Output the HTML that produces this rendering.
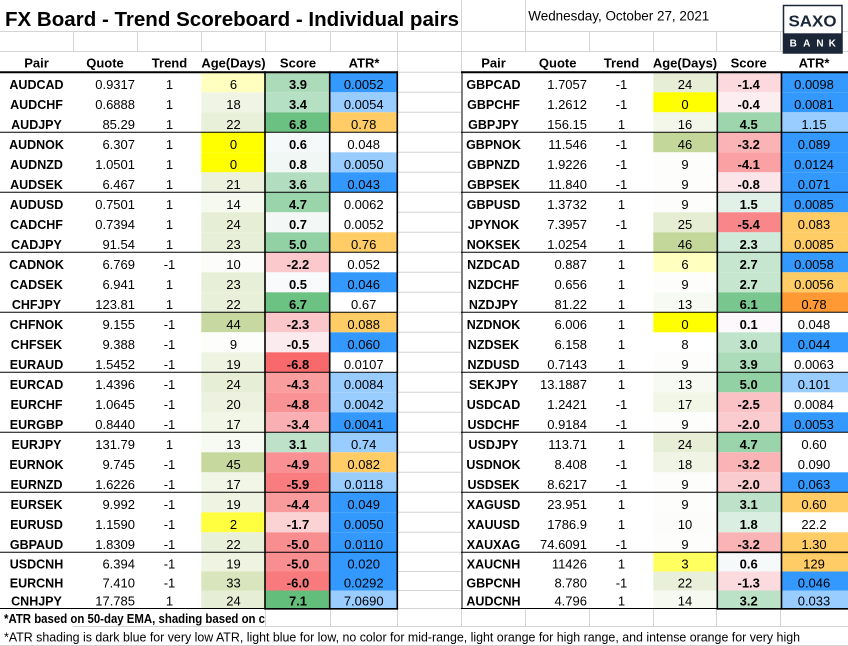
<!DOCTYPE html>
<html><head><meta charset="utf-8">
<style>
html,body{margin:0;padding:0;background:#fff;width:848px;height:646px;overflow:hidden}
svg{display:block}
text{font-family:"Liberation Sans",Arial,sans-serif;font-size:13px;fill:#000}
.b{font-weight:bold}
.m{text-anchor:middle}
.e{text-anchor:end}
g[transform] > text:first-of-type{font-size:12.5px}
</style></head>
<body>
<svg width="848" height="646" viewBox="0 0 848 646" xmlns="http://www.w3.org/2000/svg">
<defs>
<clipPath id="c1"><rect x="0" y="600" width="265" height="30"/></clipPath>
</defs>
<rect x="0" y="0" width="848" height="646" fill="#fff"/>

<g stroke="#d4d4d4" stroke-width="1" fill="none">
<line x1="0" y1="31.5" x2="783" y2="31.5"/>
<line x1="842" y1="31.5" x2="848" y2="31.5"/>
<line x1="0" y1="51.5" x2="783" y2="51.5"/>
<line x1="842" y1="51.5" x2="848" y2="51.5"/>
<line x1="73.5" y1="31.5" x2="73.5" y2="51.5"/>
<line x1="137.5" y1="31.5" x2="137.5" y2="51.5"/>
<line x1="201.5" y1="31.5" x2="201.5" y2="51.5"/>
<line x1="265.5" y1="31.5" x2="265.5" y2="51.5"/>
<line x1="330.5" y1="31.5" x2="330.5" y2="51.5"/>
<line x1="397.5" y1="31.5" x2="397.5" y2="72"/>
<line x1="461.5" y1="0" x2="461.5" y2="72"/>
<line x1="525.5" y1="0" x2="525.5" y2="51.5"/>
<line x1="589.5" y1="31.5" x2="589.5" y2="51.5"/>
<line x1="653.5" y1="31.5" x2="653.5" y2="51.5"/>
<line x1="716.5" y1="31.5" x2="716.5" y2="51.5"/>
<line x1="780.5" y1="31.5" x2="780.5" y2="51.5"/>
<line x1="398" y1="72.3" x2="461" y2="72.3"/>
<line x1="398" y1="92.3" x2="461" y2="92.3"/>
<line x1="398" y1="112.3" x2="461" y2="112.3"/>
<line x1="398" y1="132.3" x2="461" y2="132.3"/>
<line x1="398" y1="152.3" x2="461" y2="152.3"/>
<line x1="398" y1="172.3" x2="461" y2="172.3"/>
<line x1="398" y1="192.3" x2="461" y2="192.3"/>
<line x1="398" y1="212.3" x2="461" y2="212.3"/>
<line x1="398" y1="232.3" x2="461" y2="232.3"/>
<line x1="398" y1="252.3" x2="461" y2="252.3"/>
<line x1="398" y1="272.3" x2="461" y2="272.3"/>
<line x1="398" y1="292.3" x2="461" y2="292.3"/>
<line x1="398" y1="312.3" x2="461" y2="312.3"/>
<line x1="398" y1="332.3" x2="461" y2="332.3"/>
<line x1="398" y1="352.3" x2="461" y2="352.3"/>
<line x1="398" y1="372.3" x2="461" y2="372.3"/>
<line x1="398" y1="392.3" x2="461" y2="392.3"/>
<line x1="398" y1="412.3" x2="461" y2="412.3"/>
<line x1="398" y1="432.3" x2="461" y2="432.3"/>
<line x1="398" y1="452.3" x2="461" y2="452.3"/>
<line x1="398" y1="472.3" x2="461" y2="472.3"/>
<line x1="398" y1="492.3" x2="461" y2="492.3"/>
<line x1="398" y1="512.3" x2="461" y2="512.3"/>
<line x1="398" y1="532.3" x2="461" y2="532.3"/>
<line x1="398" y1="552.3" x2="461" y2="552.3"/>
<line x1="398" y1="571.5" x2="461" y2="571.5"/>
<line x1="398" y1="590.5" x2="461" y2="590.5"/>
<line x1="398" y1="608.5" x2="461" y2="608.5"/>
<line x1="265.5" y1="609" x2="265.5" y2="626.5"/>
<line x1="330.5" y1="609" x2="330.5" y2="626.5"/>
<line x1="397.5" y1="609" x2="397.5" y2="626.5"/>
<line x1="461.5" y1="609" x2="461.5" y2="626.5"/>
<line x1="525.5" y1="609" x2="525.5" y2="626.5"/>
<line x1="589.5" y1="609" x2="589.5" y2="626.5"/>
<line x1="653.5" y1="609" x2="653.5" y2="626.5"/>
<line x1="716.5" y1="609" x2="716.5" y2="626.5"/>
<line x1="780.5" y1="609" x2="780.5" y2="626.5"/>
<line x1="73" y1="626.5" x2="848" y2="626.5"/>
<line x1="0" y1="645.5" x2="848" y2="645.5"/>
</g>

<text x="5" y="26" class="b" style="font-size:20.5px" textLength="454" lengthAdjust="spacingAndGlyphs">FX Board - Trend Scoreboard - Individual pairs</text>
<text x="528.3" y="20.7" style="font-size:13.4px" textLength="181" lengthAdjust="spacingAndGlyphs">Wednesday, October 27, 2021</text>

<rect x="783.5" y="5.5" width="58.5" height="47.5" fill="#fff" stroke="#1b2738" stroke-width="1.5"/>
<rect x="783" y="33.3" width="59.5" height="20" fill="#1b2738"/>
<text x="812.5" y="26.7" class="b m" style="font-size:16px;fill:#1b2738" textLength="48" lengthAdjust="spacingAndGlyphs">SAXO</text>
<text x="793.3" y="46.5" class="b m" style="font-size:10px;fill:#fff">B</text>
<text x="806.7" y="46.5" class="b m" style="font-size:10px;fill:#fff">A</text>
<text x="820" y="46.5" class="b m" style="font-size:10px;fill:#fff">N</text>
<text x="832.3" y="46.5" class="b m" style="font-size:10px;fill:#fff">K</text>

<text x="36.5" y="67.5" class="b m">Pair</text>
<text x="105" y="67.5" class="b m">Quote</text>
<text x="169.5" y="67.5" class="b m">Trend</text>
<text x="233.5" y="67.5" class="b m">Age(Days)</text>
<text x="298" y="67.5" class="b m">Score</text>
<text x="364" y="67.5" class="b m">ATR*</text>
<text x="493.5" y="67.5" class="b m">Pair</text>
<text x="557.7" y="67.5" class="b m">Quote</text>
<text x="621.5" y="67.5" class="b m">Trend</text>
<text x="685" y="67.5" class="b m">Age(Days)</text>
<text x="748.7" y="67.5" class="b m">Score</text>
<text x="814" y="67.5" class="b m">ATR*</text>

<g transform="translate(0,72.3)"><rect x="201.3" width="64.4" height="20" fill="rgb(255,255,191)"/><rect x="265.7" width="64.3" height="20" fill="rgb(171,219,185)"/><rect x="330" width="67.3" height="20" fill="#3399ff"/>
<text x="36.5" y="16.8" class="b m">AUDCAD</text><text x="135" y="16.8" class="e">0.9317</text><text x="169.5" y="16.8" class="m">1</text><text x="233.5" y="16.8" class="m">6</text><text x="298" y="16.8" class="b m">3.9</text><text x="363.7" y="16.8" class="m">0.0052</text></g>
<g transform="translate(0,92.3)"><rect x="201.3" width="64.4" height="20" fill="rgb(239,244,229)"/><rect x="265.7" width="64.3" height="20" fill="rgb(182,224,195)"/><rect x="330" width="67.3" height="20" fill="#99ccff"/>
<text x="36.5" y="16.8" class="b m">AUDCHF</text><text x="135" y="16.8" class="e">0.6888</text><text x="169.5" y="16.8" class="m">1</text><text x="233.5" y="16.8" class="m">18</text><text x="298" y="16.8" class="b m">3.4</text><text x="363.7" y="16.8" class="m">0.0054</text></g>
<g transform="translate(0,112.3)"><rect x="201.3" width="64.4" height="20" fill="rgb(233,240,218)"/><rect x="265.7" width="64.3" height="20" fill="rgb(106,193,129)"/><rect x="330" width="67.3" height="20" fill="#ffcc66"/>
<text x="36.5" y="16.8" class="b m">AUDJPY</text><text x="135" y="16.8" class="e">85.29</text><text x="169.5" y="16.8" class="m">1</text><text x="233.5" y="16.8" class="m">22</text><text x="298" y="16.8" class="b m">6.8</text><text x="363.7" y="16.8" class="m">0.78</text></g>
<g transform="translate(0,132.3)"><rect x="201.3" width="64.4" height="20" fill="#ffff00"/><rect x="265.7" width="64.3" height="20" fill="rgb(245,249,249)"/>
<text x="36.5" y="16.8" class="b m">AUDNOK</text><text x="135" y="16.8" class="e">6.307</text><text x="169.5" y="16.8" class="m">1</text><text x="233.5" y="16.8" class="m">0</text><text x="298" y="16.8" class="b m">0.6</text><text x="363.7" y="16.8" class="m">0.048</text></g>
<g transform="translate(0,152.3)"><rect x="201.3" width="64.4" height="20" fill="#ffff00"/><rect x="265.7" width="64.3" height="20" fill="rgb(241,247,245)"/><rect x="330" width="67.3" height="20" fill="#99ccff"/>
<text x="36.5" y="16.8" class="b m">AUDNZD</text><text x="135" y="16.8" class="e">1.0501</text><text x="169.5" y="16.8" class="m">1</text><text x="233.5" y="16.8" class="m">0</text><text x="298" y="16.8" class="b m">0.8</text><text x="363.7" y="16.8" class="m">0.0050</text></g>
<g transform="translate(0,172.3)"><rect x="201.3" width="64.4" height="20" fill="rgb(235,241,221)"/><rect x="265.7" width="64.3" height="20" fill="rgb(178,222,191)"/><rect x="330" width="67.3" height="20" fill="#3399ff"/>
<text x="36.5" y="16.8" class="b m">AUDSEK</text><text x="135" y="16.8" class="e">6.467</text><text x="169.5" y="16.8" class="m">1</text><text x="233.5" y="16.8" class="m">21</text><text x="298" y="16.8" class="b m">3.6</text><text x="363.7" y="16.8" class="m">0.043</text></g>
<g transform="translate(0,192.3)"><rect x="201.3" width="64.4" height="20" fill="rgb(246,249,239)"/><rect x="265.7" width="64.3" height="20" fill="rgb(153,212,170)"/>
<text x="36.5" y="16.8" class="b m">AUDUSD</text><text x="135" y="16.8" class="e">0.7501</text><text x="169.5" y="16.8" class="m">1</text><text x="233.5" y="16.8" class="m">14</text><text x="298" y="16.8" class="b m">4.7</text><text x="363.7" y="16.8" class="m">0.0062</text></g>
<g transform="translate(0,212.3)"><rect x="201.3" width="64.4" height="20" fill="rgb(230,238,213)"/><rect x="265.7" width="64.3" height="20" fill="rgb(243,248,247)"/>
<text x="36.5" y="16.8" class="b m">CADCHF</text><text x="135" y="16.8" class="e">0.7394</text><text x="169.5" y="16.8" class="m">1</text><text x="233.5" y="16.8" class="m">24</text><text x="298" y="16.8" class="b m">0.7</text><text x="363.7" y="16.8" class="m">0.0052</text></g>
<g transform="translate(0,232.3)"><rect x="201.3" width="64.4" height="20" fill="rgb(232,239,216)"/><rect x="265.7" width="64.3" height="20" fill="rgb(146,209,164)"/><rect x="330" width="67.3" height="20" fill="#ffcc66"/>
<text x="36.5" y="16.8" class="b m">CADJPY</text><text x="135" y="16.8" class="e">91.54</text><text x="169.5" y="16.8" class="m">1</text><text x="233.5" y="16.8" class="m">23</text><text x="298" y="16.8" class="b m">5.0</text><text x="363.7" y="16.8" class="m">0.76</text></g>
<g transform="translate(0,252.3)"><rect x="201.3" width="64.4" height="20" fill="rgb(252,253,250)"/><rect x="265.7" width="64.3" height="20" fill="rgb(251,200,203)"/>
<text x="36.5" y="16.8" class="b m">CADNOK</text><text x="135" y="16.8" class="e">6.769</text><text x="169.5" y="16.8" class="m">-1</text><text x="233.5" y="16.8" class="m">10</text><text x="298" y="16.8" class="b m">-2.2</text><text x="363.7" y="16.8" class="m">0.052</text></g>
<g transform="translate(0,272.3)"><rect x="201.3" width="64.4" height="20" fill="rgb(232,239,216)"/><rect x="265.7" width="64.3" height="20" fill="rgb(248,250,251)"/><rect x="330" width="67.3" height="20" fill="#3399ff"/>
<text x="36.5" y="16.8" class="b m">CADSEK</text><text x="135" y="16.8" class="e">6.941</text><text x="169.5" y="16.8" class="m">1</text><text x="233.5" y="16.8" class="m">23</text><text x="298" y="16.8" class="b m">0.5</text><text x="363.7" y="16.8" class="m">0.046</text></g>
<g transform="translate(0,292.3)"><rect x="201.3" width="64.4" height="20" fill="rgb(233,240,218)"/><rect x="265.7" width="64.3" height="20" fill="rgb(108,194,131)"/>
<text x="36.5" y="16.8" class="b m">CHFJPY</text><text x="135" y="16.8" class="e">123.81</text><text x="169.5" y="16.8" class="m">1</text><text x="233.5" y="16.8" class="m">22</text><text x="298" y="16.8" class="b m">6.7</text><text x="363.7" y="16.8" class="m">0.67</text></g>
<g transform="translate(0,312.3)"><rect x="201.3" width="64.4" height="20" fill="rgb(199,217,160)"/><rect x="265.7" width="64.3" height="20" fill="rgb(251,198,201)"/><rect x="330" width="67.3" height="20" fill="#ffcc66"/>
<text x="36.5" y="16.8" class="b m">CHFNOK</text><text x="135" y="16.8" class="e">9.155</text><text x="169.5" y="16.8" class="m">-1</text><text x="233.5" y="16.8" class="m">44</text><text x="298" y="16.8" class="b m">-2.3</text><text x="363.7" y="16.8" class="m">0.088</text></g>
<g transform="translate(0,332.3)"><rect x="201.3" width="64.4" height="20" fill="rgb(253,254,252)"/><rect x="265.7" width="64.3" height="20" fill="rgb(252,235,238)"/><rect x="330" width="67.3" height="20" fill="#3399ff"/>
<text x="36.5" y="16.8" class="b m">CHFSEK</text><text x="135" y="16.8" class="e">9.388</text><text x="169.5" y="16.8" class="m">-1</text><text x="233.5" y="16.8" class="m">9</text><text x="298" y="16.8" class="b m">-0.5</text><text x="363.7" y="16.8" class="m">0.060</text></g>
<g transform="translate(0,352.3)"><rect x="201.3" width="64.4" height="20" fill="rgb(238,243,226)"/><rect x="265.7" width="64.3" height="20" fill="rgb(248,105,107)"/>
<text x="36.5" y="16.8" class="b m">EURAUD</text><text x="135" y="16.8" class="e">1.5452</text><text x="169.5" y="16.8" class="m">-1</text><text x="233.5" y="16.8" class="m">19</text><text x="298" y="16.8" class="b m">-6.8</text><text x="363.7" y="16.8" class="m">0.0107</text></g>
<g transform="translate(0,372.3)"><rect x="201.3" width="64.4" height="20" fill="rgb(230,238,213)"/><rect x="265.7" width="64.3" height="20" fill="rgb(249,157,159)"/><rect x="330" width="67.3" height="20" fill="#99ccff"/>
<text x="36.5" y="16.8" class="b m">EURCAD</text><text x="135" y="16.8" class="e">1.4396</text><text x="169.5" y="16.8" class="m">-1</text><text x="233.5" y="16.8" class="m">24</text><text x="298" y="16.8" class="b m">-4.3</text><text x="363.7" y="16.8" class="m">0.0084</text></g>
<g transform="translate(0,392.3)"><rect x="201.3" width="64.4" height="20" fill="rgb(236,242,223)"/><rect x="265.7" width="64.3" height="20" fill="rgb(249,146,149)"/><rect x="330" width="67.3" height="20" fill="#99ccff"/>
<text x="36.5" y="16.8" class="b m">EURCHF</text><text x="135" y="16.8" class="e">1.0645</text><text x="169.5" y="16.8" class="m">-1</text><text x="233.5" y="16.8" class="m">20</text><text x="298" y="16.8" class="b m">-4.8</text><text x="363.7" y="16.8" class="m">0.0042</text></g>
<g transform="translate(0,412.3)"><rect x="201.3" width="64.4" height="20" fill="rgb(241,246,231)"/><rect x="265.7" width="64.3" height="20" fill="rgb(250,175,178)"/><rect x="330" width="67.3" height="20" fill="#3399ff"/>
<text x="36.5" y="16.8" class="b m">EURGBP</text><text x="135" y="16.8" class="e">0.8440</text><text x="169.5" y="16.8" class="m">-1</text><text x="233.5" y="16.8" class="m">17</text><text x="298" y="16.8" class="b m">-3.4</text><text x="363.7" y="16.8" class="m">0.0041</text></g>
<g transform="translate(0,432.3)"><rect x="201.3" width="64.4" height="20" fill="rgb(247,250,242)"/><rect x="265.7" width="64.3" height="20" fill="rgb(189,226,201)"/><rect x="330" width="67.3" height="20" fill="#99ccff"/>
<text x="36.5" y="16.8" class="b m">EURJPY</text><text x="135" y="16.8" class="e">131.79</text><text x="169.5" y="16.8" class="m">1</text><text x="233.5" y="16.8" class="m">13</text><text x="298" y="16.8" class="b m">3.1</text><text x="363.7" y="16.8" class="m">0.74</text></g>
<g transform="translate(0,452.3)"><rect x="201.3" width="64.4" height="20" fill="rgb(198,216,158)"/><rect x="265.7" width="64.3" height="20" fill="rgb(249,144,147)"/><rect x="330" width="67.3" height="20" fill="#ffcc66"/>
<text x="36.5" y="16.8" class="b m">EURNOK</text><text x="135" y="16.8" class="e">9.745</text><text x="169.5" y="16.8" class="m">-1</text><text x="233.5" y="16.8" class="m">45</text><text x="298" y="16.8" class="b m">-4.9</text><text x="363.7" y="16.8" class="m">0.082</text></g>
<g transform="translate(0,472.3)"><rect x="201.3" width="64.4" height="20" fill="rgb(241,246,231)"/><rect x="265.7" width="64.3" height="20" fill="rgb(249,124,126)"/><rect x="330" width="67.3" height="20" fill="#99ccff"/>
<text x="36.5" y="16.8" class="b m">EURNZD</text><text x="135" y="16.8" class="e">1.6226</text><text x="169.5" y="16.8" class="m">-1</text><text x="233.5" y="16.8" class="m">17</text><text x="298" y="16.8" class="b m">-5.9</text><text x="363.7" y="16.8" class="m">0.0118</text></g>
<g transform="translate(0,492.3)"><rect x="201.3" width="64.4" height="20" fill="rgb(238,243,226)"/><rect x="265.7" width="64.3" height="20" fill="rgb(249,155,157)"/><rect x="330" width="67.3" height="20" fill="#3399ff"/>
<text x="36.5" y="16.8" class="b m">EURSEK</text><text x="135" y="16.8" class="e">9.992</text><text x="169.5" y="16.8" class="m">-1</text><text x="233.5" y="16.8" class="m">19</text><text x="298" y="16.8" class="b m">-4.4</text><text x="363.7" y="16.8" class="m">0.049</text></g>
<g transform="translate(0,512.3)"><rect x="201.3" width="64.4" height="20" fill="rgb(255,255,64)"/><rect x="265.7" width="64.3" height="20" fill="rgb(251,211,213)"/><rect x="330" width="67.3" height="20" fill="#3399ff"/>
<text x="36.5" y="16.8" class="b m">EURUSD</text><text x="135" y="16.8" class="e">1.1590</text><text x="169.5" y="16.8" class="m">-1</text><text x="233.5" y="16.8" class="m">2</text><text x="298" y="16.8" class="b m">-1.7</text><text x="363.7" y="16.8" class="m">0.0050</text></g>
<g transform="translate(0,532.3)"><rect x="201.3" width="64.4" height="20" fill="rgb(233,240,218)"/><rect x="265.7" width="64.3" height="20" fill="rgb(249,142,145)"/><rect x="330" width="67.3" height="20" fill="#3399ff"/>
<text x="36.5" y="16.8" class="b m">GBPAUD</text><text x="135" y="16.8" class="e">1.8309</text><text x="169.5" y="16.8" class="m">-1</text><text x="233.5" y="16.8" class="m">22</text><text x="298" y="16.8" class="b m">-5.0</text><text x="363.7" y="16.8" class="m">0.0110</text></g>
<g transform="translate(0,552.3)"><rect x="201.3" width="64.4" height="19.2" fill="rgb(238,243,226)"/><rect x="265.7" width="64.3" height="19.2" fill="rgb(249,142,145)"/><rect x="330" width="67.3" height="19.2" fill="#3399ff"/>
<text x="36.5" y="16.2" class="b m">USDCNH</text><text x="135" y="16.2" class="e">6.394</text><text x="169.5" y="16.2" class="m">-1</text><text x="233.5" y="16.2" class="m">19</text><text x="298" y="16.2" class="b m">-5.0</text><text x="363.7" y="16.2" class="m">0.020</text></g>
<g transform="translate(0,571.5)"><rect x="201.3" width="64.4" height="19" fill="rgb(216,229,189)"/><rect x="265.7" width="64.3" height="19" fill="rgb(248,122,124)"/><rect x="330" width="67.3" height="19" fill="#3399ff"/>
<text x="36.5" y="16" class="b m">EURCNH</text><text x="135" y="16" class="e">7.410</text><text x="169.5" y="16" class="m">-1</text><text x="233.5" y="16" class="m">33</text><text x="298" y="16" class="b m">-6.0</text><text x="363.7" y="16" class="m">0.0292</text></g>
<g transform="translate(0,590.5)"><rect x="201.3" width="64.4" height="18" fill="rgb(230,238,213)"/><rect x="265.7" width="64.3" height="18" fill="rgb(99,190,123)"/><rect x="330" width="67.3" height="18" fill="#99ccff"/>
<text x="36.5" y="15" class="b m">CNHJPY</text><text x="135" y="15" class="e">17.785</text><text x="169.5" y="15" class="m">1</text><text x="233.5" y="15" class="m">24</text><text x="298" y="15" class="b m">7.1</text><text x="363.7" y="15" class="m">7.0690</text></g>

<g transform="translate(0,72.3)"><rect x="653.3" width="63.4" height="20" fill="rgb(230,238,213)"/><rect x="716.7" width="64" height="20" fill="rgb(251,217,220)"/><rect x="780.7" width="67.3" height="20" fill="#3399ff"/>
<text x="493.5" y="16.8" class="b m">GBPCAD</text><text x="587" y="16.8" class="e">1.7057</text><text x="621.5" y="16.8" class="m">-1</text><text x="685" y="16.8" class="m">24</text><text x="748.7" y="16.8" class="b m">-1.4</text><text x="814" y="16.8" class="m">0.0098</text></g>
<g transform="translate(0,92.3)"><rect x="653.3" width="63.4" height="20" fill="#ffff00"/><rect x="716.7" width="64" height="20" fill="rgb(252,237,240)"/><rect x="780.7" width="67.3" height="20" fill="#3399ff"/>
<text x="493.5" y="16.8" class="b m">GBPCHF</text><text x="587" y="16.8" class="e">1.2612</text><text x="621.5" y="16.8" class="m">-1</text><text x="685" y="16.8" class="m">0</text><text x="748.7" y="16.8" class="b m">-0.4</text><text x="814" y="16.8" class="m">0.0081</text></g>
<g transform="translate(0,112.3)"><rect x="653.3" width="63.4" height="20" fill="rgb(243,247,234)"/><rect x="716.7" width="64" height="20" fill="rgb(157,214,173)"/><rect x="780.7" width="67.3" height="20" fill="#99ccff"/>
<text x="493.5" y="16.8" class="b m">GBPJPY</text><text x="587" y="16.8" class="e">156.15</text><text x="621.5" y="16.8" class="m">1</text><text x="685" y="16.8" class="m">16</text><text x="748.7" y="16.8" class="b m">4.5</text><text x="814" y="16.8" class="m">1.15</text></g>
<g transform="translate(0,132.3)"><rect x="653.3" width="63.4" height="20" fill="rgb(196,215,155)"/><rect x="716.7" width="64" height="20" fill="rgb(250,180,182)"/><rect x="780.7" width="67.3" height="20" fill="#3399ff"/>
<text x="493.5" y="16.8" class="b m">GBPNOK</text><text x="587" y="16.8" class="e">11.546</text><text x="621.5" y="16.8" class="m">-1</text><text x="685" y="16.8" class="m">46</text><text x="748.7" y="16.8" class="b m">-3.2</text><text x="814" y="16.8" class="m">0.089</text></g>
<g transform="translate(0,152.3)"><rect x="653.3" width="63.4" height="20" fill="rgb(253,254,252)"/><rect x="716.7" width="64" height="20" fill="rgb(250,161,163)"/><rect x="780.7" width="67.3" height="20" fill="#3399ff"/>
<text x="493.5" y="16.8" class="b m">GBPNZD</text><text x="587" y="16.8" class="e">1.9226</text><text x="621.5" y="16.8" class="m">-1</text><text x="685" y="16.8" class="m">9</text><text x="748.7" y="16.8" class="b m">-4.1</text><text x="814" y="16.8" class="m">0.0124</text></g>
<g transform="translate(0,172.3)"><rect x="653.3" width="63.4" height="20" fill="rgb(253,254,252)"/><rect x="716.7" width="64" height="20" fill="rgb(251,229,232)"/><rect x="780.7" width="67.3" height="20" fill="#3399ff"/>
<text x="493.5" y="16.8" class="b m">GBPSEK</text><text x="587" y="16.8" class="e">11.840</text><text x="621.5" y="16.8" class="m">-1</text><text x="685" y="16.8" class="m">9</text><text x="748.7" y="16.8" class="b m">-0.8</text><text x="814" y="16.8" class="m">0.071</text></g>
<g transform="translate(0,192.3)"><rect x="653.3" width="63.4" height="20" fill="rgb(253,254,252)"/><rect x="716.7" width="64" height="20" fill="rgb(225,241,232)"/><rect x="780.7" width="67.3" height="20" fill="#3399ff"/>
<text x="493.5" y="16.8" class="b m">GBPUSD</text><text x="587" y="16.8" class="e">1.3732</text><text x="621.5" y="16.8" class="m">1</text><text x="685" y="16.8" class="m">9</text><text x="748.7" y="16.8" class="b m">1.5</text><text x="814" y="16.8" class="m">0.0085</text></g>
<g transform="translate(0,212.3)"><rect x="653.3" width="63.4" height="20" fill="rgb(229,237,210)"/><rect x="716.7" width="64" height="20" fill="rgb(249,134,136)"/><rect x="780.7" width="67.3" height="20" fill="#ffcc66"/>
<text x="493.5" y="16.8" class="b m">JPYNOK</text><text x="587" y="16.8" class="e">7.3957</text><text x="621.5" y="16.8" class="m">-1</text><text x="685" y="16.8" class="m">25</text><text x="748.7" y="16.8" class="b m">-5.4</text><text x="814" y="16.8" class="m">0.083</text></g>
<g transform="translate(0,232.3)"><rect x="653.3" width="63.4" height="20" fill="rgb(196,215,155)"/><rect x="716.7" width="64" height="20" fill="rgb(207,234,216)"/><rect x="780.7" width="67.3" height="20" fill="#ffcc66"/>
<text x="493.5" y="16.8" class="b m">NOKSEK</text><text x="587" y="16.8" class="e">1.0254</text><text x="621.5" y="16.8" class="m">1</text><text x="685" y="16.8" class="m">46</text><text x="748.7" y="16.8" class="b m">2.3</text><text x="814" y="16.8" class="m">0.0085</text></g>
<g transform="translate(0,252.3)"><rect x="653.3" width="63.4" height="20" fill="rgb(255,255,191)"/><rect x="716.7" width="64" height="20" fill="rgb(198,230,208)"/><rect x="780.7" width="67.3" height="20" fill="#3399ff"/>
<text x="493.5" y="16.8" class="b m">NZDCAD</text><text x="587" y="16.8" class="e">0.887</text><text x="621.5" y="16.8" class="m">1</text><text x="685" y="16.8" class="m">6</text><text x="748.7" y="16.8" class="b m">2.7</text><text x="814" y="16.8" class="m">0.0058</text></g>
<g transform="translate(0,272.3)"><rect x="653.3" width="63.4" height="20" fill="rgb(253,254,252)"/><rect x="716.7" width="64" height="20" fill="rgb(198,230,208)"/><rect x="780.7" width="67.3" height="20" fill="#ffcc66"/>
<text x="493.5" y="16.8" class="b m">NZDCHF</text><text x="587" y="16.8" class="e">0.656</text><text x="621.5" y="16.8" class="m">1</text><text x="685" y="16.8" class="m">9</text><text x="748.7" y="16.8" class="b m">2.7</text><text x="814" y="16.8" class="m">0.0056</text></g>
<g transform="translate(0,292.3)"><rect x="653.3" width="63.4" height="20" fill="rgb(247,250,242)"/><rect x="716.7" width="64" height="20" fill="rgb(121,199,143)"/><rect x="780.7" width="67.3" height="20" fill="#ff9933"/>
<text x="493.5" y="16.8" class="b m">NZDJPY</text><text x="587" y="16.8" class="e">81.22</text><text x="621.5" y="16.8" class="m">1</text><text x="685" y="16.8" class="m">13</text><text x="748.7" y="16.8" class="b m">6.1</text><text x="814" y="16.8" class="m">0.78</text></g>
<g transform="translate(0,312.3)"><rect x="653.3" width="63.4" height="20" fill="#ffff00"/><rect x="716.7" width="64" height="20" fill="rgb(252,248,251)"/>
<text x="493.5" y="16.8" class="b m">NZDNOK</text><text x="587" y="16.8" class="e">6.006</text><text x="621.5" y="16.8" class="m">1</text><text x="685" y="16.8" class="m">0</text><text x="748.7" y="16.8" class="b m">0.1</text><text x="814" y="16.8" class="m">0.048</text></g>
<g transform="translate(0,332.3)"><rect x="716.7" width="64" height="20" fill="rgb(191,227,203)"/><rect x="780.7" width="67.3" height="20" fill="#3399ff"/>
<text x="493.5" y="16.8" class="b m">NZDSEK</text><text x="587" y="16.8" class="e">6.158</text><text x="621.5" y="16.8" class="m">1</text><text x="685" y="16.8" class="m">8</text><text x="748.7" y="16.8" class="b m">3.0</text><text x="814" y="16.8" class="m">0.044</text></g>
<g transform="translate(0,352.3)"><rect x="653.3" width="63.4" height="20" fill="rgb(253,254,252)"/><rect x="716.7" width="64" height="20" fill="rgb(171,219,185)"/>
<text x="493.5" y="16.8" class="b m">NZDUSD</text><text x="587" y="16.8" class="e">0.7143</text><text x="621.5" y="16.8" class="m">1</text><text x="685" y="16.8" class="m">9</text><text x="748.7" y="16.8" class="b m">3.9</text><text x="814" y="16.8" class="m">0.0063</text></g>
<g transform="translate(0,372.3)"><rect x="653.3" width="63.4" height="20" fill="rgb(247,250,242)"/><rect x="716.7" width="64" height="20" fill="rgb(146,209,164)"/><rect x="780.7" width="67.3" height="20" fill="#99ccff"/>
<text x="493.5" y="16.8" class="b m">SEKJPY</text><text x="587" y="16.8" class="e">13.1887</text><text x="621.5" y="16.8" class="m">1</text><text x="685" y="16.8" class="m">13</text><text x="748.7" y="16.8" class="b m">5.0</text><text x="814" y="16.8" class="m">0.101</text></g>
<g transform="translate(0,392.3)"><rect x="653.3" width="63.4" height="20" fill="rgb(241,246,231)"/><rect x="716.7" width="64" height="20" fill="rgb(250,194,197)"/>
<text x="493.5" y="16.8" class="b m">USDCAD</text><text x="587" y="16.8" class="e">1.2421</text><text x="621.5" y="16.8" class="m">-1</text><text x="685" y="16.8" class="m">17</text><text x="748.7" y="16.8" class="b m">-2.5</text><text x="814" y="16.8" class="m">0.0084</text></g>
<g transform="translate(0,412.3)"><rect x="653.3" width="63.4" height="20" fill="rgb(253,254,252)"/><rect x="716.7" width="64" height="20" fill="rgb(251,204,207)"/><rect x="780.7" width="67.3" height="20" fill="#3399ff"/>
<text x="493.5" y="16.8" class="b m">USDCHF</text><text x="587" y="16.8" class="e">0.9184</text><text x="621.5" y="16.8" class="m">-1</text><text x="685" y="16.8" class="m">9</text><text x="748.7" y="16.8" class="b m">-2.0</text><text x="814" y="16.8" class="m">0.0053</text></g>
<g transform="translate(0,432.3)"><rect x="653.3" width="63.4" height="20" fill="rgb(230,238,213)"/><rect x="716.7" width="64" height="20" fill="rgb(153,212,170)"/>
<text x="493.5" y="16.8" class="b m">USDJPY</text><text x="587" y="16.8" class="e">113.71</text><text x="621.5" y="16.8" class="m">1</text><text x="685" y="16.8" class="m">24</text><text x="748.7" y="16.8" class="b m">4.7</text><text x="814" y="16.8" class="m">0.60</text></g>
<g transform="translate(0,452.3)"><rect x="653.3" width="63.4" height="20" fill="rgb(239,244,229)"/><rect x="716.7" width="64" height="20" fill="rgb(250,180,182)"/>
<text x="493.5" y="16.8" class="b m">USDNOK</text><text x="587" y="16.8" class="e">8.408</text><text x="621.5" y="16.8" class="m">-1</text><text x="685" y="16.8" class="m">18</text><text x="748.7" y="16.8" class="b m">-3.2</text><text x="814" y="16.8" class="m">0.090</text></g>
<g transform="translate(0,472.3)"><rect x="653.3" width="63.4" height="20" fill="rgb(253,254,252)"/><rect x="716.7" width="64" height="20" fill="rgb(251,204,207)"/><rect x="780.7" width="67.3" height="20" fill="#3399ff"/>
<text x="493.5" y="16.8" class="b m">USDSEK</text><text x="587" y="16.8" class="e">8.6217</text><text x="621.5" y="16.8" class="m">-1</text><text x="685" y="16.8" class="m">9</text><text x="748.7" y="16.8" class="b m">-2.0</text><text x="814" y="16.8" class="m">0.063</text></g>
<g transform="translate(0,492.3)"><rect x="653.3" width="63.4" height="20" fill="rgb(253,254,252)"/><rect x="716.7" width="64" height="20" fill="rgb(189,226,201)"/><rect x="780.7" width="67.3" height="20" fill="#ffcc66"/>
<text x="493.5" y="16.8" class="b m">XAGUSD</text><text x="587" y="16.8" class="e">23.951</text><text x="621.5" y="16.8" class="m">1</text><text x="685" y="16.8" class="m">9</text><text x="748.7" y="16.8" class="b m">3.1</text><text x="814" y="16.8" class="m">0.60</text></g>
<g transform="translate(0,512.3)"><rect x="653.3" width="63.4" height="20" fill="rgb(252,253,250)"/><rect x="716.7" width="64" height="20" fill="rgb(218,238,226)"/>
<text x="493.5" y="16.8" class="b m">XAUUSD</text><text x="587" y="16.8" class="e">1786.9</text><text x="621.5" y="16.8" class="m">1</text><text x="685" y="16.8" class="m">10</text><text x="748.7" y="16.8" class="b m">1.8</text><text x="814" y="16.8" class="m">22.2</text></g>
<g transform="translate(0,532.3)"><rect x="653.3" width="63.4" height="20" fill="rgb(253,254,252)"/><rect x="716.7" width="64" height="20" fill="rgb(250,180,182)"/><rect x="780.7" width="67.3" height="20" fill="#ffcc66"/>
<text x="493.5" y="16.8" class="b m">XAUXAG</text><text x="587" y="16.8" class="e">74.6091</text><text x="621.5" y="16.8" class="m">-1</text><text x="685" y="16.8" class="m">9</text><text x="748.7" y="16.8" class="b m">-3.2</text><text x="814" y="16.8" class="m">1.30</text></g>
<g transform="translate(0,552.3)"><rect x="653.3" width="63.4" height="19.2" fill="rgb(255,255,96)"/><rect x="716.7" width="64" height="19.2" fill="rgb(245,249,249)"/><rect x="780.7" width="67.3" height="19.2" fill="#ffcc66"/>
<text x="493.5" y="16.2" class="b m">XAUCNH</text><text x="587" y="16.2" class="e">11426</text><text x="621.5" y="16.2" class="m">1</text><text x="685" y="16.2" class="m">3</text><text x="748.7" y="16.2" class="b m">0.6</text><text x="814" y="16.2" class="m">129</text></g>
<g transform="translate(0,571.5)"><rect x="653.3" width="63.4" height="19" fill="rgb(233,240,218)"/><rect x="716.7" width="64" height="19" fill="rgb(251,219,222)"/><rect x="780.7" width="67.3" height="19" fill="#3399ff"/>
<text x="493.5" y="16" class="b m">GBPCNH</text><text x="587" y="16" class="e">8.780</text><text x="621.5" y="16" class="m">-1</text><text x="685" y="16" class="m">22</text><text x="748.7" y="16" class="b m">-1.3</text><text x="814" y="16" class="m">0.046</text></g>
<g transform="translate(0,590.5)"><rect x="653.3" width="63.4" height="18" fill="rgb(246,249,239)"/><rect x="716.7" width="64" height="18" fill="rgb(187,226,199)"/><rect x="780.7" width="67.3" height="18" fill="#99ccff"/>
<text x="493.5" y="15" class="b m">AUDCNH</text><text x="587" y="15" class="e">4.796</text><text x="621.5" y="15" class="m">1</text><text x="685" y="15" class="m">14</text><text x="748.7" y="15" class="b m">3.2</text><text x="814" y="15" class="m">0.033</text></g>

<g stroke="#000" fill="none">
<line x1="0" y1="72.3" x2="398" y2="72.3" stroke-width="2"/>
<line x1="461" y1="72.3" x2="848" y2="72.3" stroke-width="2"/>
<g stroke-width="1">
<line x1="0" y1="132.3" x2="398" y2="132.3"/><line x1="461" y1="132.3" x2="848" y2="132.3"/>
<line x1="0" y1="192.3" x2="398" y2="192.3"/><line x1="461" y1="192.3" x2="848" y2="192.3"/>
<line x1="0" y1="252.3" x2="398" y2="252.3"/><line x1="461" y1="252.3" x2="848" y2="252.3"/>
<line x1="0" y1="312.3" x2="398" y2="312.3"/><line x1="461" y1="312.3" x2="848" y2="312.3"/>
<line x1="0" y1="372.3" x2="398" y2="372.3"/><line x1="461" y1="372.3" x2="848" y2="372.3"/>
<line x1="0" y1="432.3" x2="398" y2="432.3"/><line x1="461" y1="432.3" x2="848" y2="432.3"/>
<line x1="0" y1="492.3" x2="398" y2="492.3"/><line x1="461" y1="492.3" x2="848" y2="492.3"/>
<line x1="0" y1="552.3" x2="398" y2="552.3"/><line x1="461" y1="552.3" x2="848" y2="552.3"/>
<line x1="0" y1="608.5" x2="398" y2="608.5"/><line x1="461" y1="608.5" x2="848" y2="608.5"/>
<line x1="462" y1="71.5" x2="462" y2="609"/>
</g>
<line x1="716.7" y1="552.3" x2="848" y2="552.3" stroke-width="1.6"/>
<line x1="265" y1="608.8" x2="398" y2="608.8" stroke-width="1.6"/>
<line x1="716.7" y1="608.8" x2="848" y2="608.8" stroke-width="1.6"/>
<g stroke-width="1.6">
<line x1="265" y1="71.3" x2="265" y2="609.6"/>
<line x1="329.7" y1="71.3" x2="329.7" y2="609.6"/>
<line x1="397.3" y1="71.3" x2="397.3" y2="609.6"/>
<line x1="717.3" y1="71.3" x2="717.3" y2="609.6"/>
<line x1="781.5" y1="71.3" x2="781.5" y2="609.6"/>
</g>
</g>

<text x="4" y="623" class="b" clip-path="url(#c1)" textLength="268" lengthAdjust="spacingAndGlyphs">*ATR based on 50-day EMA, shading based on co</text>
<text x="4" y="641.3" textLength="796" lengthAdjust="spacingAndGlyphs">*ATR shading is dark blue for very low ATR, light blue for low, no color for mid-range, light orange for high range, and intense orange for very high</text>
</svg>
</body></html>
